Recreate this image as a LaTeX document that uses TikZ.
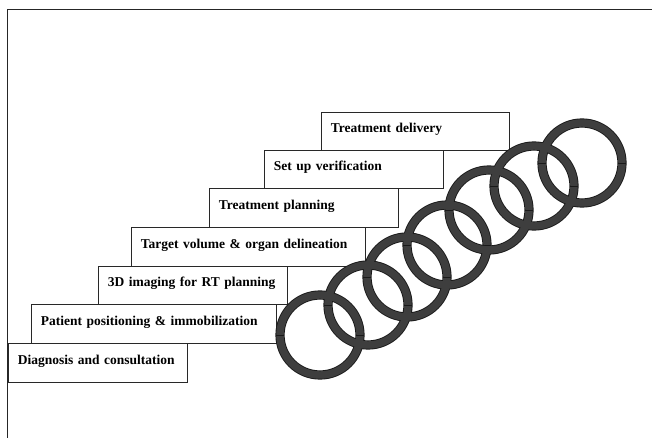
\documentclass[tikz,border=0pt]{standalone}
\usepackage{fontspec}
\setmainfont{Liberation Serif}
\usetikzlibrary{calc}
\definecolor{ringgray}{RGB}{62,62,62}
\definecolor{ringedge}{RGB}{25,25,25}
\definecolor{boxline}{RGB}{40,40,40}
\tikzset{
  stepbox/.style={draw=boxline, line width=0.8pt, fill=white, rectangle, anchor=north west,
    inner xsep=9.5pt, inner ysep=0pt, align=left, text height=8pt, text depth=5pt,
    font=\fontsize{13.5}{16}\selectfont\bfseries},
  ringout/.style={draw=ringedge, line width=9.2pt},
  ringin/.style={draw=ringgray, line width=7.4pt},
  ringtick/.style={draw=ringedge, line width=0.6pt},
  frameline/.style={draw=black!85, line width=0.9pt}
}
\newcommand{\mkbox}[6]{%
  \node[stepbox, minimum width=#4-#2, minimum height=#5-#3, text width=#4-#2-19pt] (#1) at (#2,#3) {#6};}
\begin{document}
\begin{tikzpicture}[x=1pt,y=-1pt]
\useasboundingbox (0,0) rectangle (652,438);
% frame (top and left edges visible)
\coordinate (fbl) at (7,438);
\coordinate (ftl) at (7,9);
\coordinate (ftr) at (652,9);
\draw[frameline] (fbl) -- (ftl) -- (ftr);
% step boxes
\mkbox{b1}{8}{343}{187}{382}{Diagnosis and consultation}
\mkbox{b2}{31}{304}{276}{343}{Patient positioning \& immobilization}
\mkbox{b3}{98}{266}{287}{304}{3D imaging for RT planning}
\mkbox{b4}{131}{227}{365}{266}{Target volume \& organ delineation}
\mkbox{b5}{209}{188}{398}{227}{Treatment planning}
\mkbox{b6}{264}{150}{443}{188}{Set up verification}
\mkbox{b7}{321}{112}{509}{150}{Treatment delivery}
% rings
\coordinate (r1) at (320,335);
\coordinate (r2) at (368,305);
\coordinate (r3) at (407,277);
\coordinate (r4) at (447,245);
\coordinate (r5) at (489,210);
\coordinate (r6) at (534,186);
\coordinate (r7) at (582,163);
\foreach \r in {r1,r2,r3,r4,r5,r6,r7} {
  \draw[ringout] (\r) circle (40);
}
\foreach \r in {r1,r2,r3,r4,r5,r6,r7} {
  \draw[ringin] (\r) circle (40);
  \draw[ringtick] ($(\r)+(36.3,0)$) -- ($(\r)+(43.7,0)$);
  \draw[ringtick] ($(\r)+(-36.3,0)$) -- ($(\r)+(-43.7,0)$);
}
\end{tikzpicture}
\end{document}
